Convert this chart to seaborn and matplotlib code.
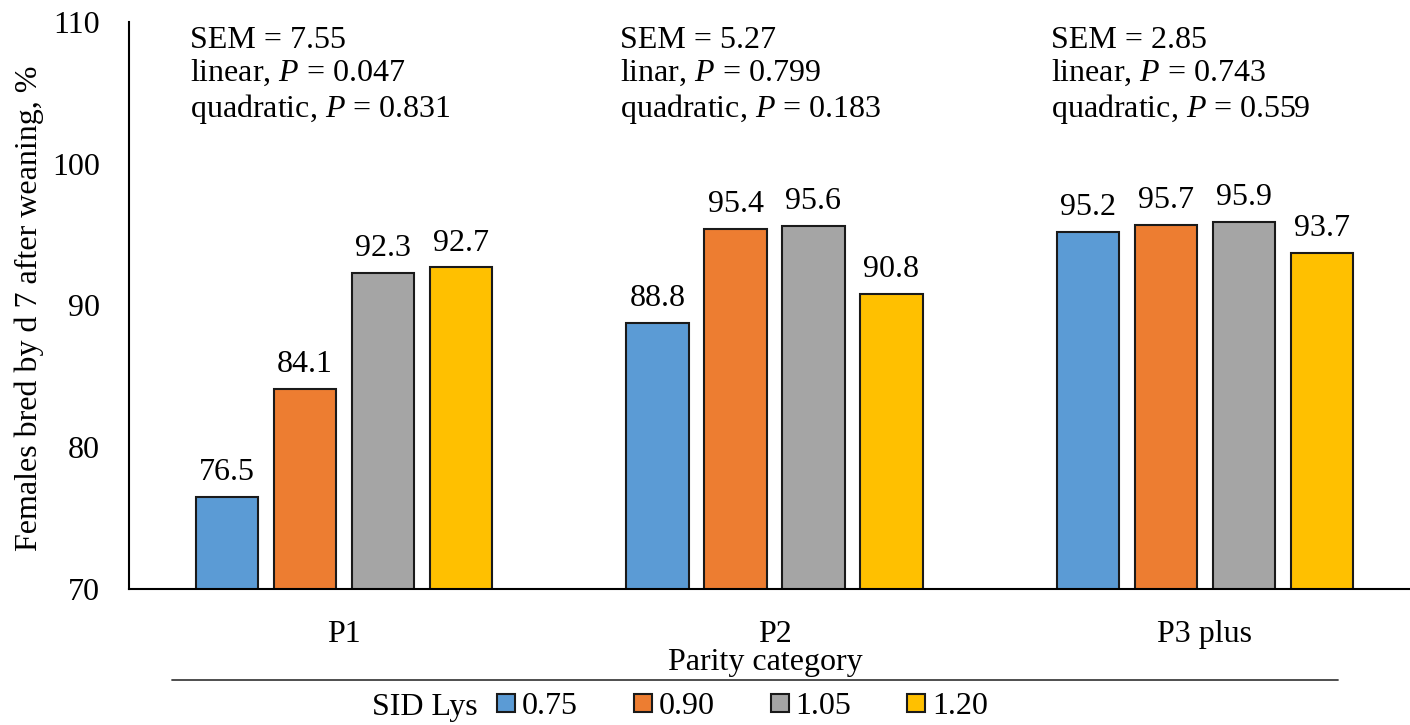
import pandas as pd
import matplotlib.pyplot as plt
import seaborn as sns
from matplotlib.lines import Line2D

# Data
parity = ['P1', 'P2', 'P3 plus']
sid_lys = ['0.75', '0.90', '1.05', '1.20']
bred_p1 = [76.5, 84.1, 92.3, 92.7]
bred_p2 = [88.8, 95.4, 95.6, 90.8]
bred_p3 = [95.2, 95.7, 95.9, 93.7]
stats_text = [
    'SEM = 7.55\nlinear, $P$ = 0.047\nquadratic, $P$ = 0.831',
    'SEM = 5.27\nlinar, $P$ = 0.799\nquadratic, $P$ = 0.183',
    'SEM = 2.85\nlinear, $P$ = 0.743\nquadratic, $P$ = 0.559',
]
colors = ['#5B9BD5', '#ED7D31', '#A5A5A5', '#FFC000']

rows = []
for p, vals in zip(parity, [bred_p1, bred_p2, bred_p3]):
    for lys, v in zip(sid_lys, vals):
        rows.append({'Parity': p, 'SID Lys': lys, 'bred': v})
df = pd.DataFrame(rows)

# Style
sns.set_style("white")
plt.rcParams['font.family'] = ['Liberation Serif', 'DejaVu Serif']
plt.rcParams['mathtext.fontset'] = 'custom'
plt.rcParams['mathtext.rm'] = 'Liberation Serif'
plt.rcParams['mathtext.it'] = 'Liberation Serif:italic'
for k in ['text.color', 'axes.labelcolor', 'xtick.color', 'ytick.color']:
    plt.rcParams[k] = 'black'
fs = 23

fig = plt.figure(figsize=(14.1, 7.25), dpi=100)
ax = fig.add_axes([129 / 1410, 136 / 725, 1291 / 1410, 567 / 725])

sns.barplot(data=df, x='Parity', y='bred', hue='SID Lys', palette=colors,
            width=0.725, gap=0.2, edgecolor='#1a1a1a', linewidth=1.5,
            saturation=1, ax=ax, legend=True)

for cont in ax.containers:
    ax.bar_label(cont, fmt='%.1f', padding=7, fontsize=fs)

ax.set_ylim(70, 110)
ax.set_xlim(-0.5, 2.5)
ax.set_yticks([70, 80, 90, 100, 110])
ax.tick_params(axis='both', length=0, labelsize=fs)
ax.tick_params(axis='y', pad=21)
ax.tick_params(axis='x', pad=22)
for s in ['top', 'right']:
    ax.spines[s].set_visible(False)
for s in ['left', 'bottom']:
    ax.spines[s].set_color('black')
    ax.spines[s].set_linewidth(1.5)

ax.set_ylabel('Females bred by d 7 after weaning, %', fontsize=fs)
ax.yaxis.set_label_coords(-0.066, 0.496)
ax.set_xlabel('Parity category', fontsize=fs)
ax.xaxis.set_label_coords(0.493, -0.104)

for i, txt in enumerate(stats_text):
    ax.text(i - 0.358, 109.75, txt, fontsize=fs, va='top', ha='left', linespacing=1.14)

# line under axis title
fig.add_artist(Line2D([172 / 1410, 1338 / 1410], [45 / 725, 45 / 725],
                      color='#404040', linewidth=1.3))

handles, labels = ax.get_legend_handles_labels()
ax.legend(handles, labels, loc='center left', bbox_to_anchor=(497 / 1410, 18 / 725),
          bbox_transform=fig.transFigure, ncol=4, frameon=False, fontsize=fs,
          handlelength=0.56, handleheight=0.47, handletextpad=0.22,
          columnspacing=1.75, borderaxespad=0, borderpad=0)
fig.text(372 / 1410, 18 / 725, 'SID Lys', fontsize=fs, va='center', ha='left')

plt.savefig('out.png', dpi=100)
